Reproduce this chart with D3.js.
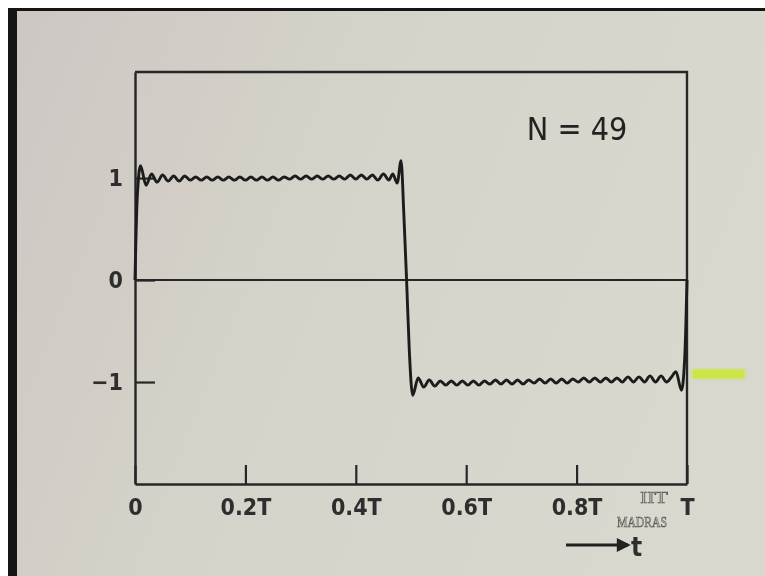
<!DOCTYPE html>
<html>

<head>
  <meta charset='utf-8'>
  <style>
    body { margin: 0; background: #fff; }
    svg { display: block; }
    .lbl { font-family: "Liberation Sans Narrow", "DejaVu Sans Condensed", sans-serif; font-weight: bold; fill: #2e2e2e; }
  </style>
  <script src='https://cdn.jsdelivr.net/npm/d3@7'></script>
</head>

<body>
  <script>
    // square wave, partial fourier sum N = 49
    let titleText = "N = 49"
    let xTicks = [0, 0.2, 0.4, 0.6, 0.8, 1]
    let xTickLabels = ["0", "0.2T", "0.4T", "0.6T", "0.8T", "T"]
    let yTicks = [-1, 0, 1]
    let yTickLabels = ["\u22121", "0", "1"]

    // first half period (+1 level)
    let upperT = [0, 0.004, 0.01, 0.02, 0.03, 0.04, 0.05, 0.06, 0.07, 0.08, 0.09,
      0.10, 0.11, 0.12, 0.13, 0.14, 0.15, 0.16, 0.17, 0.18, 0.19,
      0.20, 0.21, 0.22, 0.23, 0.24, 0.25, 0.26, 0.27, 0.28, 0.29,
      0.30, 0.31, 0.32, 0.33, 0.34, 0.35, 0.36, 0.37, 0.38, 0.39,
      0.40, 0.41, 0.42, 0.43, 0.44, 0.45, 0.46, 0.467, 0.475, 0.482, 0.487, 0.492]
    let upperV = [0, 0.80, 1.12, 0.93, 1.04, 0.96, 1.03, 0.97, 1.02, 0.97, 1.02,
      0.98, 1.01, 0.98, 1.01, 0.98, 1.01, 0.98, 1.01, 0.98, 1.01,
      0.98, 1.01, 0.98, 1.01, 0.98, 1.01, 0.98, 1.01, 0.99, 1.02,
      0.99, 1.02, 0.99, 1.02, 0.99, 1.02, 0.99, 1.02, 0.99, 1.03,
      0.99, 1.03, 0.99, 1.03, 0.98, 1.04, 0.98, 1.04, 0.95, 1.17, 0.65, 0]

    // second half period (-1 level)
    let lowerT = [0.497, 0.503, 0.513, 0.523, 0.533, 0.543, 0.553, 0.563, 0.573, 0.583,
      0.593, 0.603, 0.613, 0.623, 0.633, 0.643, 0.653, 0.663, 0.673, 0.683,
      0.693, 0.703, 0.713, 0.723, 0.733, 0.743, 0.753, 0.763, 0.773, 0.783,
      0.793, 0.803, 0.813, 0.823, 0.833, 0.843, 0.853, 0.863, 0.873, 0.883,
      0.893, 0.903, 0.913, 0.923, 0.933, 0.943, 0.953, 0.963, 0.972, 0.98, 0.99, 0.996, 1.0]
    let lowerV = [-0.70, -1.13, -0.96, -1.05, -0.98, -1.04, -0.99, -1.03, -0.99, -1.03,
      -0.99, -1.03, -0.99, -1.03, -0.99, -1.02, -0.98, -1.02, -0.98, -1.02,
      -0.98, -1.02, -0.98, -1.01, -0.97, -1.01, -0.97, -1.01, -0.97, -1.01,
      -0.97, -1.00, -0.96, -1.00, -0.96, -1.00, -0.96, -1.00, -0.96, -1.00,
      -0.95, -1.00, -0.95, -1.00, -0.94, -1.00, -0.94, -1.00, -0.95, -0.90, -1.08, -0.75, 0]

    let [width, height] = [765, 576]
    let curve = upperT.map((t, i) => [t, upperV[i]])
      .concat(lowerT.map((t, i) => [t, lowerV[i]]))

    let svg = d3.select("body")
      .append("svg")
      .attr("width", width)
      .attr("height", height)

    let defs = svg.append("defs")
    let grad = defs.append("linearGradient").attr("id", "paper")
      .attr("x1", 0).attr("y1", 0).attr("x2", 1).attr("y2", 0.3)
    grad.append("stop").attr("offset", 0).attr("stop-color", "#cdc7c3")
    grad.append("stop").attr("offset", 0.5).attr("stop-color", "#d6d4ca")
    grad.append("stop").attr("offset", 1).attr("stop-color", "#d9d8ce")
    defs.append("filter").attr("id", "soft")
      .append("feGaussianBlur").attr("stdDeviation", 0.55)
    defs.append("filter").attr("id", "glow")
      .append("feGaussianBlur").attr("stdDeviation", 1.6)
    defs.append("marker").attr("id", "head")
      .attr("viewBox", "0 0 10 10").attr("refX", 8).attr("refY", 5)
      .attr("markerWidth", 5.5).attr("markerHeight", 5).attr("orient", "auto")
      .append("path").attr("d", "M0,0L10,5L0,10z").attr("fill", "#222")

    // photo frame
    svg.append("rect").attr("x", 8).attr("y", 8).attr("width", width - 8).attr("height", height - 8).attr("fill", "#151515")
    svg.append("rect").attr("x", 17).attr("y", 11).attr("width", width - 17).attr("height", height - 11).attr("fill", "url(#paper)")

    let x = d3.scaleLinear([0, 1], [135, 687])
    let y = d3.scaleLinear([-2, 2.04], [484, 72])

    let g = svg.append("g").attr("filter", "url(#soft)")

    // box
    g.append("path")
      .attr("d", `M${x(0)},${y(2.04)}H${x(1)}V${y(-2)}`)
      .attr("fill", "none").attr("stroke", "#262626").attr("stroke-width", 2.4)

    // zero line
    g.append("line")
      .attr("x1", x(0)).attr("x2", x(1)).attr("y1", y(0)).attr("y2", y(0))
      .attr("stroke", "#262626").attr("stroke-width", 2)

    let xAxis = a => a
      .attr("transform", `translate(0,${y(-2)})`)
      .call(d3.axisBottom(x).tickValues(xTicks).tickFormat((d, i) => xTickLabels[i])
        .tickSize(-19).tickSizeOuter(0).tickPadding(15))
      .call(a => a.select(".domain").attr("stroke", "#262626").attr("stroke-width", 2.4))
      .call(a => a.selectAll(".tick line").attr("stroke", "#262626").attr("stroke-width", 2.2))
      .call(a => a.selectAll(".tick text").attr("class", "lbl").attr("font-size", 23))

    let yAxis = a => a
      .attr("transform", `translate(${x(0)},0)`)
      .call(d3.axisLeft(y).tickValues(yTicks).tickFormat((d, i) => yTickLabels[i])
        .tickSize(-20).tickSizeOuter(0).tickPadding(12))
      .call(a => a.select(".domain").attr("stroke", "#262626").attr("stroke-width", 2.4))
      .call(a => a.selectAll(".tick line").attr("stroke", "#262626").attr("stroke-width", 2.2))
      .call(a => a.selectAll(".tick text").attr("class", "lbl").attr("font-size", 23))

    g.append("g").call(xAxis)
    g.append("g").call(yAxis)

    let line = d3.line()
      .x(d => x(d[0]))
      .y(d => y(d[1]))
      .curve(d3.curveMonotoneX)

    g.append("path")
      .datum(curve)
      .attr("d", line)
      .attr("fill", "none")
      .attr("stroke", "#1c1c1c")
      .attr("stroke-width", 2.9)
      .attr("stroke-linejoin", "round")

    g.append("text")
      .attr("x", 577).attr("y", 140)
      .attr("text-anchor", "middle")
      .attr("font-family", "'DejaVu Sans Condensed', 'Liberation Sans Narrow', sans-serif")
      .attr("font-size", 32)
      .attr("fill", "#232323")
      .text(titleText)

    // watermark
    let wm = g.append("g").attr("font-family", "'Liberation Serif', serif")
      .attr("fill", "#cfcdc3").attr("stroke", "#5f5d58").attr("stroke-width", 0.7)
      .attr("text-anchor", "middle")
    wm.append("text").attr("x", 654).attr("y", 503).attr("font-size", 17)
      .attr("textLength", 28).attr("lengthAdjust", "spacingAndGlyphs").text("IIT")
    wm.append("text").attr("x", 642).attr("y", 527).attr("font-size", 15)
      .attr("textLength", 50).attr("lengthAdjust", "spacingAndGlyphs").text("MADRAS")

    // time arrow
    g.append("line")
      .attr("x1", 566).attr("x2", 628).attr("y1", 545).attr("y2", 545)
      .attr("stroke", "#222").attr("stroke-width", 2.8)
      .attr("marker-end", "url(#head)")
    g.append("text").attr("x", 631).attr("y", 556)
      .attr("class", "lbl").attr("font-size", 26).text("t")

    // pointer mark on the right
    svg.append("rect")
      .attr("x", 692).attr("y", 369).attr("width", 53).attr("height", 10)
      .attr("fill", "#cbe544").attr("filter", "url(#glow)")
  </script>
</body>

</html>
